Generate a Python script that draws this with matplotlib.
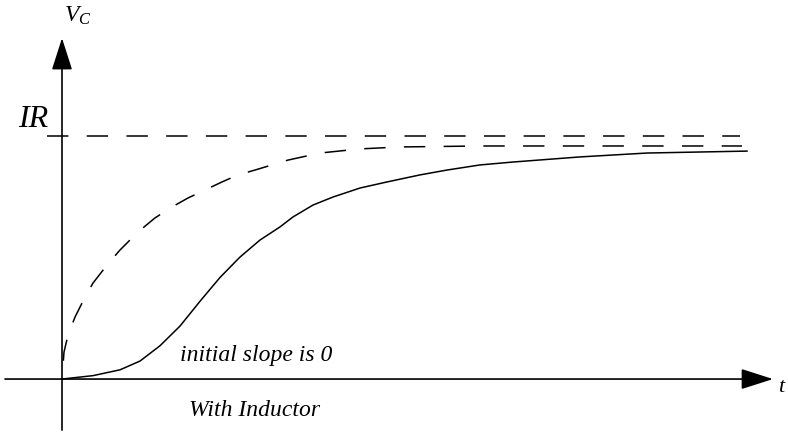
import matplotlib
matplotlib.use("Agg")
from matplotlib import pyplot as plt

plt.rcParams['mathtext.fontset'] = 'custom'
plt.rcParams['mathtext.it'] = 'Liberation Serif:italic'
plt.rcParams['mathtext.rm'] = 'Liberation Serif'

# values (t in arbitrary units, V normalised so IR = 1)
ir_level = 1.0

dashed_t = [0.0, 0.02, 0.06, 0.13, 0.23, 0.31, 0.45, 0.58, 0.76, 0.93,
            1.10, 1.26, 1.43, 1.60, 1.76, 1.93, 2.26, 2.58, 2.98, 3.38, 4.18, 6.80]
dashed_v = [0.0, 0.111, 0.181, 0.255, 0.337, 0.395, 0.469, 0.531, 0.605, 0.663,
            0.708, 0.745, 0.778, 0.811, 0.840, 0.860, 0.901, 0.930, 0.947, 0.955,
            0.959, 0.959]

solid_t = [0.0, 0.31, 0.58, 0.78, 0.98, 1.18, 1.38, 1.58, 1.78, 1.98, 2.18, 2.31,
           2.51, 2.71, 2.98, 3.25, 3.58, 3.85, 4.18, 4.51, 5.18, 5.85, 6.85]
solid_v = [0.0, 0.014, 0.038, 0.074, 0.137, 0.218, 0.320, 0.418, 0.502, 0.572,
           0.626, 0.667, 0.716, 0.749, 0.786, 0.811, 0.840, 0.860, 0.881, 0.893,
           0.914, 0.930, 0.938]

ir_line_t = [-0.15, 6.78]

serif = 'Liberation Serif'

fig = plt.figure(figsize=(7.88, 4.33), dpi=100)
ax = fig.add_axes([0, 0, 1, 1])
ax.set_xlim(-0.62, 7.26)
ax.set_ylim(-0.222, 1.5597)
ax.axis('off')

# axes with arrow heads
arrow = dict(arrowstyle='-|>,head_length=1.0,head_width=0.32', mutation_scale=20,
             lw=1.2, color='#222222', fc='black', ec='black', shrinkA=0, shrinkB=0)
ax.annotate('', xy=(7.11, 0), xytext=(-0.57, 0), arrowprops=arrow)
ax.annotate('', xy=(0, 1.403), xytext=(0, -0.21), arrowprops=arrow)

# IR level and curves
ax.plot(ir_line_t, [ir_level, ir_level], color='black', lw=1.1, dashes=(14, 12))
ax.plot(dashed_t, dashed_v, color='black', lw=1.1, linestyle=(14, (14, 12)))
ax.plot(solid_t, solid_v, color='black', lw=1.1, solid_joinstyle='round')

# labels
ax.text(0.02, 1.50, '$V_C$', fontsize=17, ha='left', va='center')
ax.text(-0.14, 1.07, 'IR', family=serif, style='italic', fontsize=23,
        ha='right', va='center')
ax.text(7.16, -0.035, 't', family=serif, style='italic', fontsize=16,
        ha='left', va='center')
ax.text(1.18, 0.095, 'initial slope is 0', family=serif, style='italic',
        fontsize=17, ha='left', va='center')
ax.text(1.93, -0.131, 'With Inductor', family=serif, style='italic',
        fontsize=17, ha='center', va='center')

fig.savefig('out.png', dpi=100)
plt.close()
